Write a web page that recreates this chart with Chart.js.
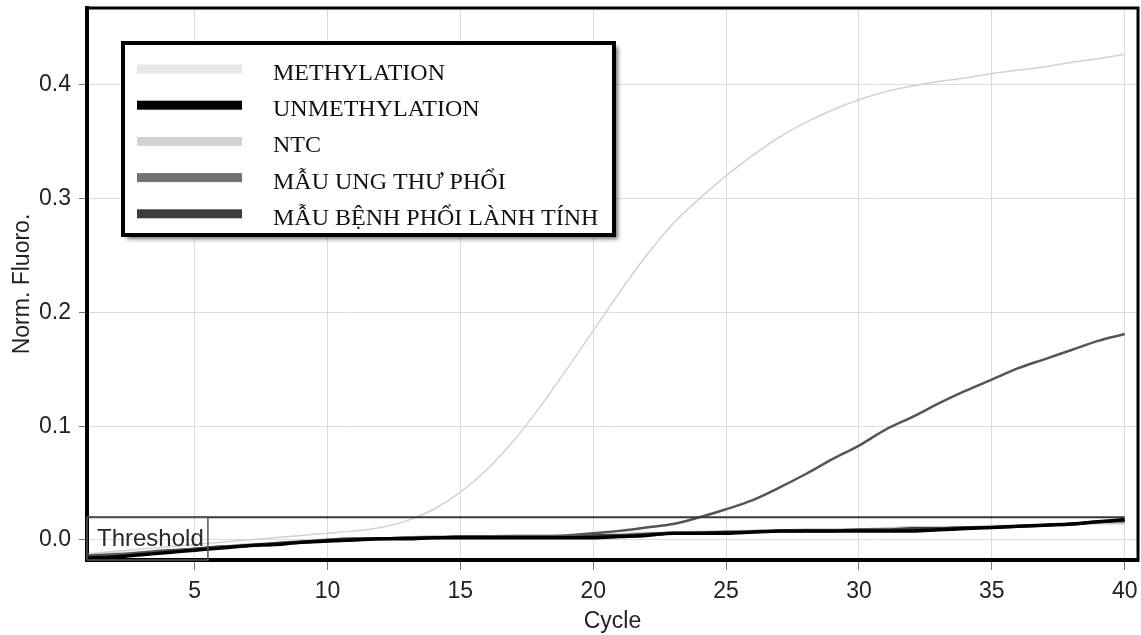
<!DOCTYPE html>
<html>
<head>
<meta charset="utf-8">
<script src="https://cdn.jsdelivr.net/npm/chart.js@4.4.1/dist/chart.umd.min.js"></script>
<style>
  html, body { margin: 0; padding: 0; background: #fff; }
  canvas { display: block; }
</style>
</head>
<body>
<canvas id="pcrChart" width="1141" height="635"></canvas>
<script>
const cycles = [1,2,3,4,5,6,7,8,9,10,11,12,13,14,15,16,17,18,19,20,21,22,23,24,25,26,27,28,29,30,31,32,33,34,35,36,37,38,39,40];
const methylation = [-0.012,-0.010,-0.008,-0.006,-0.004,-0.002,0.000,0.002,0.004,0.006,0.008,0.011,0.017,0.027,0.042,0.062,0.087,0.117,0.150,0.184,0.218,0.250,0.278,0.300,0.320,0.338,0.354,0.367,0.378,0.387,0.394,0.399,0.403,0.406,0.410,0.413,0.416,0.420,0.423,0.427];
const unmethylation = [-0.016,-0.015,-0.013,-0.011,-0.009,-0.007,-0.005,-0.004,-0.002,-0.001,0.000,0.001,0.001,0.002,0.002,0.002,0.002,0.002,0.002,0.002,0.003,0.004,0.006,0.006,0.006,0.007,0.008,0.008,0.008,0.008,0.008,0.008,0.009,0.010,0.011,0.012,0.013,0.014,0.016,0.018];
const ntc = [-0.013,-0.012,-0.011,-0.009,-0.008,-0.006,-0.004,-0.003,-0.001,0.000,0.001,0.001,0.002,0.003,0.003,0.003,0.004,0.004,0.004,0.005,0.005,0.006,0.006,0.007,0.007,0.008,0.008,0.009,0.009,0.009,0.010,0.011,0.011,0.011,0.012,0.012,0.013,0.014,0.015,0.015];
const ungThuPhoi = [-0.015,-0.013,-0.011,-0.009,-0.008,-0.006,-0.005,-0.003,-0.002,-0.001,0.000,0.001,0.002,0.002,0.003,0.003,0.003,0.003,0.004,0.006,0.008,0.011,0.014,0.020,0.027,0.035,0.046,0.058,0.071,0.083,0.097,0.108,0.120,0.131,0.141,0.151,0.159,0.167,0.175,0.181];
const lanhTinh = [-0.014,-0.013,-0.012,-0.010,-0.008,-0.006,-0.005,-0.003,-0.002,0.000,0.001,0.001,0.002,0.002,0.003,0.003,0.003,0.003,0.003,0.004,0.004,0.005,0.006,0.006,0.007,0.007,0.008,0.008,0.008,0.009,0.009,0.010,0.010,0.011,0.011,0.012,0.013,0.014,0.016,0.017];
const threshold = 0.02;
const xTicks = [5, 10, 15, 20, 25, 30, 35, 40];
const yTicks = [0, 0.1, 0.2, 0.3, 0.4];

const toPoints = (ys) => ys.map((y, i) => ({ x: cycles[i], y: y }));

// frame, threshold label and the boxed legend
const overlay = {
  id: 'overlay',
  afterDraw(chart) {
    const { ctx, chartArea: a, scales } = chart;
    ctx.save();
    ctx.strokeStyle = '#000';
    ctx.lineWidth = 3;
    ctx.strokeRect(a.left, a.top, a.right - a.left, a.bottom - a.top);

    // threshold label box
    const tTop = scales.y.getPixelForValue(threshold);
    const tRight = scales.x.getPixelForValue(5.5);
    ctx.lineWidth = 1.5;
    ctx.strokeStyle = '#555';
    ctx.strokeRect(a.left, tTop, tRight - a.left, a.bottom - tTop);
    ctx.fillStyle = '#2a2a2a';
    ctx.font = '24px "Liberation Sans", Arial, sans-serif';
    ctx.textBaseline = 'alphabetic';
    ctx.fillText('Threshold', a.left + 10, tTop + 29);

    // legend
    const bx = 123, by = 43, bw = 491, bh = 192;
    ctx.save();
    ctx.shadowColor = 'rgba(0,0,0,0.55)';
    ctx.shadowBlur = 4;
    ctx.shadowOffsetX = 4;
    ctx.shadowOffsetY = 4;
    ctx.fillStyle = '#fff';
    ctx.fillRect(bx, by, bw, bh);
    ctx.restore();
    ctx.lineWidth = 4;
    ctx.strokeStyle = '#000';
    ctx.strokeRect(bx, by, bw, bh);

    const items = chart.data.datasets.filter(d => d.inLegend);
    ctx.font = '24px "Liberation Serif", "Times New Roman", serif';
    items.forEach((d, i) => {
      const rowY = 69 + i * 36.2;
      ctx.fillStyle = d.swatchColor || d.borderColor;
      ctx.fillRect(137, rowY - 4.5, 105, 9);
      ctx.fillStyle = '#111';
      ctx.fillText(d.label, 273, rowY + 11);
    });
    ctx.restore();
  }
};

const ctx = document.getElementById('pcrChart').getContext('2d');
new Chart(ctx, {
  type: 'line',
  data: {
    datasets: [
      { label: 'METHYLATION', data: toPoints(methylation), borderColor: '#d2d2d2', swatchColor: '#e8e8e8', borderWidth: 1.5, order: 5, inLegend: true },
      { label: 'UNMETHYLATION', data: toPoints(unmethylation), borderColor: '#000', borderWidth: 3.5, order: 1, inLegend: true },
      { label: 'NTC', data: toPoints(ntc), borderColor: '#c8c8c8', swatchColor: '#d2d2d2', borderWidth: 3, order: 4, inLegend: true },
      { label: 'MẪU UNG THƯ PHỔI', data: toPoints(ungThuPhoi), borderColor: '#555', swatchColor: '#737373', borderWidth: 2.5, order: 2, inLegend: true },
      { label: 'MẪU BỆNH PHỔI LÀNH TÍNH', data: toPoints(lanhTinh), borderColor: '#3c3c3c', borderWidth: 3, order: 3, inLegend: true },
      { label: 'Threshold', data: [{ x: cycles[0], y: threshold }, { x: cycles[cycles.length - 1], y: threshold }], borderColor: '#3a3a3a', borderWidth: 2, order: 0, tension: 0 }
    ]
  },
  options: {
    responsive: false,
    animation: false,
    layout: { padding: { top: 8, right: 3, left: 0, bottom: 0 } },
    elements: {
      point: { radius: 0 },
      line: { tension: 0.25, cubicInterpolationMode: 'monotone' }
    },
    plugins: {
      legend: { display: false },
      tooltip: { enabled: false }
    },
    scales: {
      x: {
        type: 'linear',
        min: 0.95,
        max: 40.5,
        afterBuildTicks: (scale) => { scale.ticks = xTicks.map(v => ({ value: v })); },
        afterFit: (scale) => {
          scale.height = 75;
          scale.paddingLeft = 0;
          scale.paddingRight = 0;
        },
        ticks: {
          color: '#222',
          padding: 8,
          font: { family: '"Liberation Sans", Arial, sans-serif', size: 23 },
          callback: (v) => String(v)
        },
        grid: { color: '#dcdcdc', lineWidth: 1, tickLength: 10, tickColor: '#777' },
        border: { display: true, color: '#000', width: 4 },
        title: {
          display: true, text: 'Cycle', color: '#222',
          font: { family: '"Liberation Sans", Arial, sans-serif', size: 23 },
          padding: { top: 0, bottom: 0 }
        }
      },
      y: {
        min: -0.0176,
        max: 0.4676,
        afterBuildTicks: (scale) => { scale.ticks = yTicks.map(v => ({ value: v })); },
        afterFit: (scale) => {
          scale.width = 87;
          scale.paddingTop = 0;
          scale.paddingBottom = 0;
        },
        ticks: {
          color: '#222',
          padding: 8,
          font: { family: '"Liberation Sans", Arial, sans-serif', size: 23 },
          callback: (v) => Number(v).toFixed(1)
        },
        grid: { color: '#dcdcdc', lineWidth: 1, tickLength: 8, tickColor: '#777' },
        border: { display: true, color: '#000', width: 4 },
        title: {
          display: true, text: 'Norm. Fluoro.', color: '#222',
          font: { family: '"Liberation Sans", Arial, sans-serif', size: 23 },
          padding: { top: 9, bottom: 0 }
        }
      }
    }
  },
  plugins: [overlay]
});
</script>
</body>
</html>
